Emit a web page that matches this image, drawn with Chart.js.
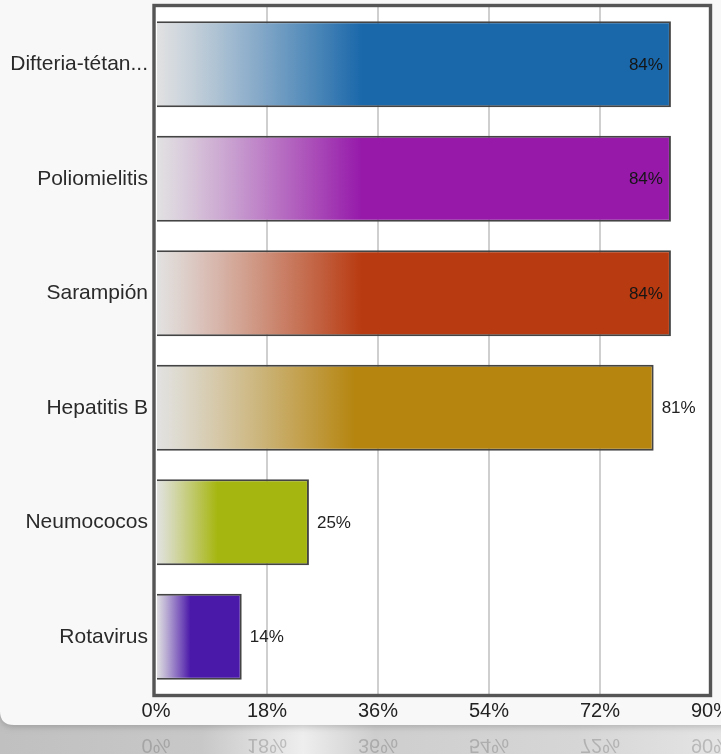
<!DOCTYPE html>
<html><head><meta charset="utf-8">
<script src="https://cdn.jsdelivr.net/npm/chart.js@4.4.0/dist/chart.umd.min.js"></script>
<style>
html,body{margin:0;padding:0;overflow:hidden;background:#f8f8f8}
#wrap{width:740px;height:754px;position:relative}
</style></head>
<body><div id="wrap"><canvas id="c"></canvas></div>
<script>
const categories = ["Difteria-tétan...", "Poliomielitis", "Sarampión", "Hepatitis B", "Neumococos", "Rotavirus"];
const coverage = [83.5, 83.5, 83.5, 80.7, 24.8, 13.9];
const valueLabels = ["84%", "84%", "84%", "81%", "25%", "14%"];
const barColors = ["#1a68aa", "#9619aa", "#b83a10", "#b5850f", "#a6b610", "#4b19aa"];
const axisMin = 0, axisMax = 90, axisStep = 18;

const FONT = '"Liberation Sans", Arial, Helvetica, sans-serif';

function hexToRgb(h){h=h.replace('#','');return [parseInt(h.substr(0,2),16),parseInt(h.substr(2,2),16),parseInt(h.substr(4,2),16)];}
function mix(a,b,f){return 'rgb('+a.map((v,i)=>Math.round(v+(b[i]-v)*f)).join(',')+')';}

function barFill(ctx){
  const chart = ctx.chart, area = chart.chartArea;
  const base = barColors[ctx.dataIndex % barColors.length];
  if (!area || ctx.type !== 'data') return base;
  const xs = chart.scales.x;
  const x0 = xs.getPixelForValue(0), x1 = xs.getPixelForValue(ctx.raw);
  if (!(x1 > x0)) return base;
  const g = chart.ctx.createLinearGradient(x0, 0, x1, 0);
  const light = [226,226,226], col = hexToRgb(base);
  const N = 10, span = 0.40;
  for (let i = 0; i <= N; i++) {
    g.addColorStop(i/N*span, mix(light, col, Math.pow(i/N, 1.1)));
  }
  g.addColorStop(1, base);
  return g;
}

const bgPlugin = {
  id: 'bgPlugin',
  beforeDraw(chart){
    const {ctx, width, height, chartArea:a} = chart;
    ctx.save();
    const band = ctx.createLinearGradient(0, 0, 721, 0);
    band.addColorStop(0, '#c0c0c0');
    band.addColorStop(0.28, '#c8c8c8');
    band.addColorStop(0.42, '#eeeeee');
    band.addColorStop(0.52, '#cecece');
    band.addColorStop(0.8, '#d6d6d6');
    band.addColorStop(1, '#e4e4e4');
    ctx.fillStyle = band;
    ctx.fillRect(0, 0, width, height);
    ctx.shadowColor = 'rgba(0,0,0,0.18)';
    ctx.shadowBlur = 6;
    ctx.shadowOffsetY = 2;
    ctx.fillStyle = '#f8f8f8';
    ctx.beginPath();
    const pb = 725, r = 14;
    ctx.moveTo(0, -10);
    ctx.lineTo(width + 10, -10);
    ctx.lineTo(width + 10, pb);
    ctx.lineTo(r, pb);
    ctx.quadraticCurveTo(0, pb, 0, pb - r);
    ctx.closePath();
    ctx.fill();
    ctx.restore();
    ctx.save();
    ctx.fillStyle = '#ffffff';
    ctx.fillRect(a.left, a.top, a.right - a.left, a.bottom - a.top);
    ctx.restore();
  },
  afterDatasetsDraw(chart){
    const {ctx, chartArea:a} = chart;
    ctx.save();
    ctx.strokeStyle = '#555555';
    ctx.lineWidth = 3.4;
    ctx.strokeRect(a.left - 2, a.top - 1.5, (a.right - 0.5) - (a.left - 2), (a.bottom + 1.5) - (a.top - 1.5));
    ctx.restore();
    const meta = chart.getDatasetMeta(0);
    ctx.save();
    ctx.font = '17px ' + FONT;
    ctx.textBaseline = 'middle';
    meta.data.forEach((bar, i) => {
      const txt = valueLabels[i];
      const w = ctx.measureText(txt).width;
      const yc = bar.y + 1;
      if (bar.x + 8 + w > a.right - 6) {
        ctx.textAlign = 'right';
        ctx.fillStyle = '#151515';
        ctx.fillText(txt, bar.x - 8, yc);
      } else {
        ctx.textAlign = 'left';
        ctx.fillStyle = '#222222';
        ctx.fillText(txt, bar.x + 8, yc);
      }
    });
    ctx.restore();
  },
  afterDraw(chart){
    const {ctx} = chart;
    const xs = chart.scales.x;
    const mirror = 728, yc = 711;
    ctx.save();
    ctx.translate(0, 2*mirror);
    ctx.scale(1, -1);
    ctx.font = '20px ' + FONT;
    ctx.textAlign = 'center';
    ctx.textBaseline = 'middle';
    ctx.fillStyle = 'rgba(90,90,90,0.3)';
    xs.ticks.forEach(t => {
      ctx.fillText(t.value + '%', xs.getPixelForValue(t.value), yc);
    });
    ctx.restore();
  }
};

new Chart(document.getElementById('c'), {
  type: 'bar',
  data: {
    labels: categories,
    datasets: [{
      data: coverage,
      backgroundColor: barFill,
      borderColor: '#444444',
      borderWidth: 2,
      borderSkipped: 'start',
      barPercentage: 0.75,
      categoryPercentage: 1.0
    }]
  },
  options: {
    indexAxis: 'y',
    responsive: true,
    maintainAspectRatio: false,
    animation: false,
    layout: { padding: { top: 7, right: 29, bottom: 0, left: 0 } },
    plugins: { legend: { display: false }, tooltip: { enabled: false } },
    scales: {
      x: {
        min: axisMin, max: axisMax,
        ticks: { stepSize: axisStep, callback: v => v + '%', color: '#222222', font: { size: 20, family: FONT }, padding: 5, maxRotation: 0 },
        grid: { drawTicks: false, lineWidth: 2, color: c => (c.tick && (c.tick.value === axisMin || c.tick.value === axisMax)) ? 'rgba(0,0,0,0)' : '#cfcfcf' },
        border: { display: false },
        afterFit: s => { s.height = 60; }
      },
      y: {
        ticks: { color: '#2a2a2a', font: { size: 21, family: FONT }, padding: 8 },
        grid: { display: false, drawTicks: false },
        border: { display: false },
        afterFit: s => { s.width = 156; s.paddingTop = 0; s.paddingBottom = 0; }
      }
    }
  },
  plugins: [bgPlugin]
});
</script>
</body></html>
